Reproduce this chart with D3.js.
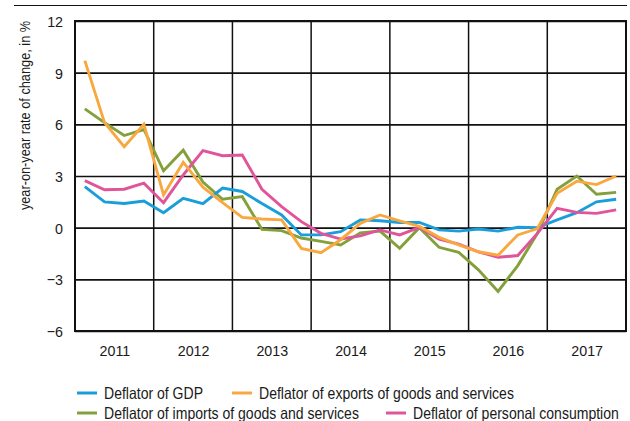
<!DOCTYPE html>
<html><head><meta charset="utf-8">
<script src="https://cdn.jsdelivr.net/npm/d3@7"></script>
<style>
html,body{margin:0;padding:0;background:#fff;}
svg text{font-family:"Liberation Sans",Arial,Helvetica,sans-serif;fill:#1a1a1a;}
</style></head>
<body>
<svg id="c" width="630" height="421"></svg>
<script>
const years = ["2011","2012","2013","2014","2015","2016","2017"];
const yTicks = [-6,-3,0,3,6,9,12];
const seriesNames = ["Deflator of GDP","Deflator of exports of goods and services","Deflator of imports of goods and services","Deflator of personal consumption"];
const seriesColors = ["#1a9edb","#f9a83f","#84a03c","#e0559a"];
const gdp = [2.38,1.5,1.4,1.55,0.87,1.7,1.4,2.3,2.1,1.4,0.74,-0.42,-0.42,-0.23,0.45,0.4,0.3,0.3,-0.13,-0.2,-0.08,-0.2,0.02,0.0,0.45,0.87,1.5,1.65];
const exportsD = [9.7,6.1,4.7,6.0,1.9,3.8,2.35,1.45,0.6,0.5,0.45,-1.2,-1.45,-0.7,0.25,0.74,0.39,0.08,-0.56,-1.0,-1.4,-1.6,-0.42,-0.05,2.0,2.7,2.5,3.0];
const importsD = [6.9,6.1,5.35,5.7,3.3,4.5,2.65,1.65,1.8,-0.1,-0.17,-0.6,-0.8,-1.0,-0.3,-0.2,-1.2,0.0,-1.14,-1.43,-2.45,-3.7,-2.2,-0.33,2.23,3.0,1.94,2.05];
const consumption = [2.73,2.2,2.23,2.58,1.45,3.06,4.47,4.18,4.22,2.23,1.22,0.35,-0.33,-0.66,-0.48,-0.13,-0.42,0.02,-0.66,-0.95,-1.4,-1.72,-1.62,-0.33,1.12,0.89,0.83,1.03];
const seriesData = [gdp, exportsD, importsD, consumption];
const drawOrder = [2,0,3,1];

const svg = d3.select("#c");
const L=75, R=626, T=21, B=331;
const x = d3.scaleLinear().domain([0, years.length*4]).range([L, R]);
const y = d3.scaleLinear().domain([-6, 12]).range([B, T]);

function condense(sel, f){
  sel.each(function(){
    const w = this.getComputedTextLength();
    d3.select(this).attr("textLength", (w*f).toFixed(2)).attr("lengthAdjust","spacingAndGlyphs");
  });
}

// top rule
svg.append("line").attr("x1",14).attr("x2",627).attr("y1",5.5).attr("y2",5.5).attr("stroke","#111").attr("stroke-width",1.2);

// y axis labels + horizontal grid
const yAxis = d3.axisLeft(y).tickValues(yTicks).tickSize(-(R-L)).tickPadding(13)
  .tickFormat(d => d<0 ? "\u2212"+Math.abs(d) : String(d));
const gy = svg.append("g").attr("transform",`translate(${L},0)`).call(yAxis);
gy.select(".domain").remove();
gy.selectAll(".tick line").attr("stroke","#111").attr("stroke-width",1.6);
gy.selectAll(".tick text").attr("font-size",15.5).attr("x",-12).attr("dy","0.36em").call(condense,0.92);

// vertical grid at year boundaries
const xb = d3.range(0, years.length*4+1, 4);
svg.append("g").selectAll("line").data(xb).join("line")
  .attr("x1",d=>x(d)).attr("x2",d=>x(d)).attr("y1",T).attr("y2",B)
  .attr("stroke","#111").attr("stroke-width",1.5);

// frame
svg.append("rect").attr("x",L).attr("y",T).attr("width",R-L).attr("height",B-T)
  .attr("fill","none").attr("stroke","#111").attr("stroke-width",2);

// year labels
const xAxis = d3.axisBottom(x).tickValues(years.map((d,i)=>i*4+2)).tickSize(0).tickPadding(14)
  .tickFormat((d,i)=>years[i]);
const gx = svg.append("g").attr("transform",`translate(0,${B})`).call(xAxis);
gx.select(".domain").remove();
gx.selectAll(".tick text").attr("font-size",15.5).call(condense,0.92);

// lines
const line = d3.line().x((d,i)=>x(i+0.5)).y(d=>y(d));
svg.append("g").selectAll("path").data(drawOrder).join("path")
  .attr("d",k=>line(seriesData[k])).attr("fill","none")
  .attr("stroke",k=>seriesColors[k]).attr("stroke-width",2.9).attr("stroke-linejoin","miter");

// y label
svg.append("text").attr("transform","translate(25,115.5) rotate(-90)")
  .attr("text-anchor","middle").attr("dy","0.36em").attr("font-size",15).text("year-on-year rate of change, in %").call(condense,0.85);

// legend
const legPos = [[77,393],[232,393],[77,413],[386,413]];
const lg = svg.append("g").selectAll("g").data(seriesNames).join("g")
  .attr("transform",(d,i)=>`translate(${legPos[i][0]},${legPos[i][1]})`);
lg.append("line").attr("x1",0).attr("x2",20).attr("y1",0).attr("y2",0)
  .attr("stroke",(d,i)=>seriesColors[i]).attr("stroke-width",3);
lg.append("text").attr("x",27).attr("dy","0.36em").attr("font-size",16.5).text(d=>d).call(condense,0.85);
</script>
</body></html>
